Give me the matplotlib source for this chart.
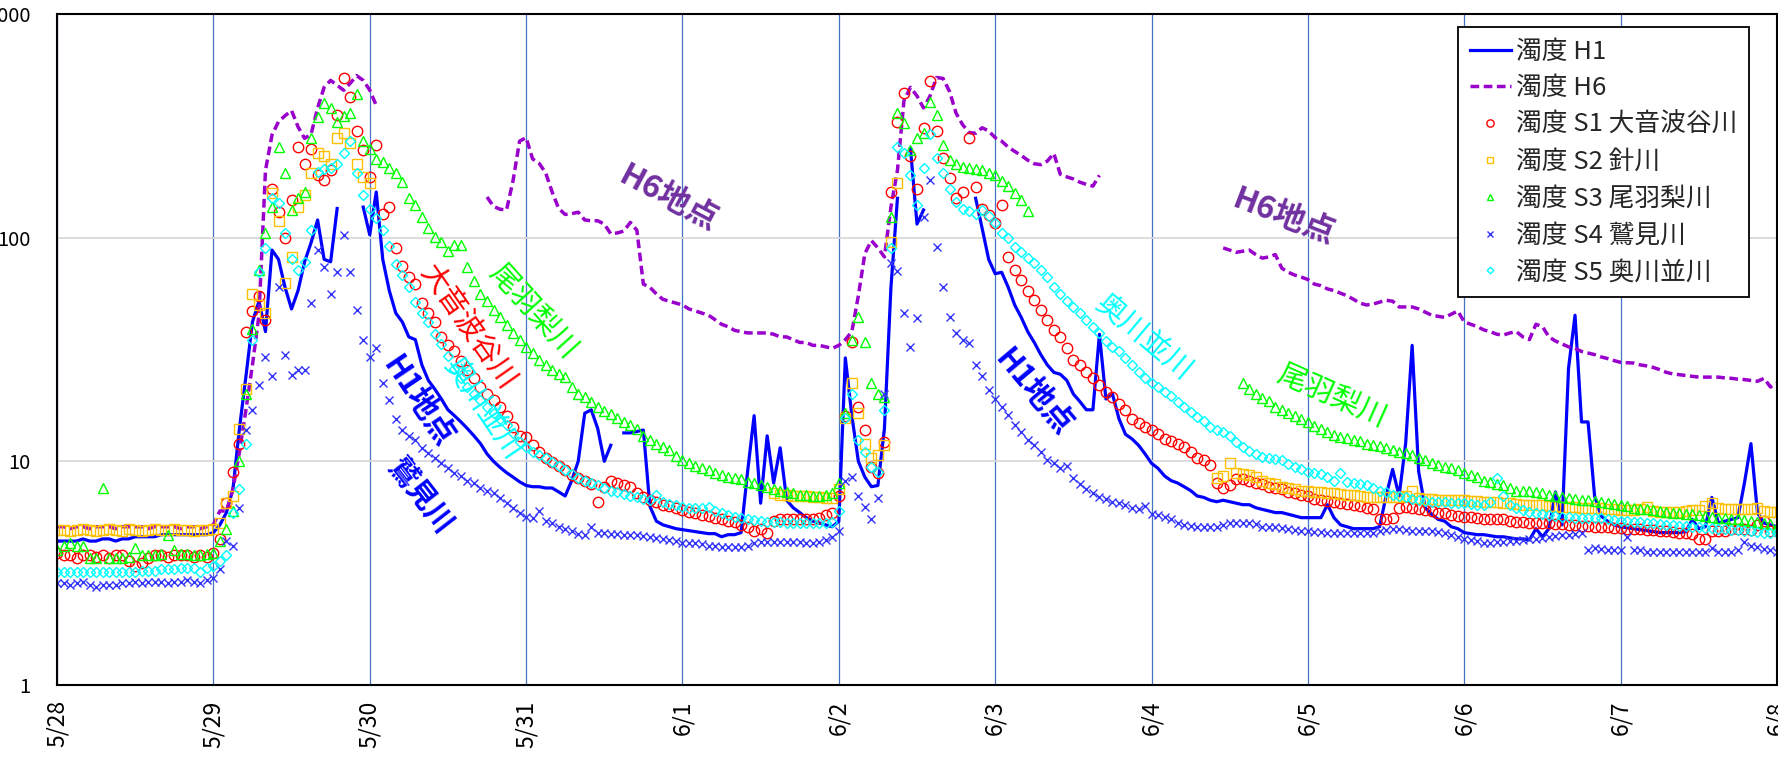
import numpy as np
import pandas as pd
import matplotlib
matplotlib.use('Agg')
import matplotlib.pyplot as plt
import matplotlib.dates as mdates
from matplotlib.ticker import FixedLocator, NullLocator, FuncFormatter

plt.rcParams['font.family'] = ['Noto Sans CJK JP', 'DejaVu Sans']

nan = np.nan

# hourly readings, 5/28 0:00 .. 6/8 0:00 (one row per day)
h1 = ([4.4,4.4,4.4,4.4,4.5,4.4,4.4,4.5,4.5,4.4,4.5,4.5,4.6,4.6,4.6,4.6,4.7,4.7,4.7,4.7,4.7,4.7,4.7,4.7]
      + [4.8,5.2,5.9,7.5,14,24,42,52,38,88,80,60,48,58,78,95,120,80,78,135,nan,nan,nan,137]
      + [103,160,80,58,46,42,36,35,27,23,21,19,17,16,15,14,13,12,10.8,10,9.4,8.9,8.5,8.1]
      + [7.8,7.7,7.7,7.6,7.6,7.3,7.0,8.2,10,16.4,17,14,10,11.8,nan,13.4,13.4,13.6,13.8,6.3,5.4,5.2,5.1,5.0]
      + [4.95,4.9,4.85,4.8,4.75,4.75,4.6,4.7,4.7,4.8,9,16,6.5,13,8,11.5,6.7,6.2,5.9,5.6,5.4,5.3,5.2,5.1]
      + [5.4,29,16,10,8.5,7.7,7.8,14,60,150,nan,250,115,133,nan,nan,nan,nan,nan,nan,nan,150,110,80]
      + [69,70,60,50,44,38,34,30,27,25,24.5,23,20,18.5,17,17,37,19,20,15.5,13.2,12.6,11.8,10.8]
      + [9.8,9.3,8.6,8.2,8.0,7.7,7.4,7.0,6.9,6.7,6.6,6.7,6.6,6.5,6.4,6.4,6.2,6.1,6.0,5.9,5.9,5.8,5.7,5.6]
      + [5.6,5.6,5.6,6.4,5.6,5.2,5.1,5.0,5.0,5.0,5.0,5.1,7,9.2,7,12,33,9,6.2,5.8,5.5,5.4,5.1,5.0]
      + [4.8,4.75,4.7,4.7,4.65,4.6,4.6,4.55,4.5,4.5,4.45,5.0,4.6,5.0,7.3,5.2,26,45,15,15,7,5.7,5.4,5.2]
      + [5.1,5.05,5.0,4.95,4.9,4.85,4.8,4.8,4.8,4.8,4.85,5.5,5.0,5.1,6.9,5.3,5.4,5.5,5.6,8,12,5.9,5.3,5.2]
      + [5.1])

h6 = ([5.1,5.1,5.0,5.1,5.1,5.0,5.1,5.1,5.1,5.0,5.1,5.1,5.1,5.1,5.0,5.1,5.1,5.1,5.1,5.0,5.1,5.1,5.0,5.1]
      + [5.2,6.0,6.0,7.5,11,17,27,45,200,288,330,351,370,313,278,290,380,470,505,480,456,490,530,505]
      + [457,390] + [nan]*16 + [152,138,134,133,180,270]
      + [280,225,215,195,160,135,127,128,130,120,119,119,115,104,105,107,117,108,62,60,56,53,52,51]
      + [50,48,47,46,45,43,41,40,38.5,38,37.5,37.5,37.5,37.5,37,36,36,35,34,34,33,33,32.5,32]
      + [33,35,38,55,85,97,90,82,137,200,410,470,430,380,430,520,515,450,360,320,295,293,310,300]
      + [280,270,254,243,233,222,214,212,220,238,192,187,183,177,173,170,190] + [nan]*7
      + [nan]*11 + [90,88,86,87,88,84,81,82,84,73,70,68,66.6]
      + [65,62,61,59,58,56.5,55,53,51,50,50.5,51.5,52.5,52,49,49,49,48,46.5,45,44.5,44,45.5,47]
      + [42,41,40,38.7,38,37,36.7,37.5,38,36,35,41,40,36,34.5,33.5,32.5,32,31,30.5,30,29.3,28.8,28.2]
      + [27.7,27.6,27.5,27,26.7,26.3,25.7,25,24.6,24.4,24.2,24,23.8,23.8,23.8,23.8,23.6,23.5,23.3,23.2,23,22.8,23.5,21.5]
      + [22.3])

s1 = ([3.9,3.8,3.8,3.7,3.8,3.8,3.75,3.8,3.7,3.8,3.8,3.6,3.4,3.5,3.7,3.8,3.8,3.75,3.8,3.8,3.8,3.75,3.8,3.75]
      + [3.9,4.5,6.5,9.0,12,38,47,55,43,165,130,100,147,254,214,250,190,181,200,352,520,425,300,246]
      + [187,260,128,137,90,75,67,62,51,46,42,36,33,31,28,25.5,23.5,21.5,20,18.8,17.5,16,14.2,13]
      + [12.8,11.8,11,10.4,9.9,9.5,9.1,8.7,8.4,8.2,7.9,6.6,7.7,8.2,8.0,7.8,7.7,7.2,6.9,6.7,6.6,6.4,6.3,6.2]
      + [6.05,5.95,5.85,5.75,5.7,5.6,5.5,5.4,5.35,5.2,5.1,4.9,5.0,4.8,5.4,5.5,5.5,5.5,5.5,5.5,5.55,5.6,5.75,5.9]
      + [7,16,34,17.5,13.8,9.4,8.9,12.2,160,330,445,233,165,310,500,300,228,185,150,160,279,168,135,126]
      + [116,140,82,72,64.5,58,52.5,47.5,43,38.7,36,32,28.5,27,25,23.5,22,20.5,19.4,18,17,15.5,14.8,14.2]
      + [13.8,13.2,12.6,12.3,12,11.6,11,10.4,10.1,9.6,8.0,7.6,7.8,8.3,8.3,8.2,8.0,7.9,7.7,7.6,7.5,7.3,7.2,7.1]
      + [7.0,6.8,6.7,6.65,6.6,6.5,6.45,6.4,6.3,6.2,6.1,5.5,5.5,5.6,6.2,6.25,6.2,6.1,6.05,6.0,5.9,5.85,5.75,5.7]
      + [5.65,5.65,5.6,5.55,5.55,5.5,5.5,5.4,5.35,5.35,5.3,5.3,5.3,5.3,5.25,5.25,5.2,5.2,5.15,5.15,5.1,5.1,5.1,5.05]
      + [5.05,5.0,5.0,5.0,4.95,4.95,4.9,4.9,4.85,4.8,4.8,4.75,4.5,4.5,4.9,4.9,4.9,5.0,5.0,5.0,4.95,5.2,5.4,4.9]
      + [4.9])

s2 = ([4.95,4.95,4.9,4.95,5.0,4.95,4.9,4.95,5.0,4.95,4.9,5.0,4.95,4.9,4.95,5.0,4.95,4.95,5.0,4.95,4.95,4.9,4.95,4.95]
      + [5.0,5.3,6.5,7.0,14,21,56,50,46,158,119,63,82,137,155,194,238,233,214,280,293,265,214,187]
      + [175] + [nan]*23
      + [nan]*24
      + [nan]*14 + [7.2,7.1,7.1,7.0,7.0,7.0,6.9,6.9,6.85,6.85]
      + [7.5,15.6,22.4,16.4,12,10.3,10.7,11.8,96,175] + [nan]*14
      + [nan]*24
      + [nan]*10 + [8.4,8.6,9.8,8.9,8.8,8.7,8.5,8.2,8.0,7.9,7.7,7.6,7.5,7.4]
      + [7.35,7.3,7.3,7.25,7.2,7.15,7.1,7.05,7.0,6.95,6.9,6.9,6.9,6.9,6.9,7.0,7.4,6.85,6.8,6.8,6.75,6.75,6.7,6.7]
      + [6.7,6.65,6.65,6.6,6.6,6.6,6.5,6.5,6.45,6.4,6.4,6.4,6.35,6.3,6.3,6.25,6.25,6.25,6.2,6.2,6.2,6.2,6.15,6.1]
      + [6.05,6.05,6.05,6.1,6.25,6.0,5.95,5.95,5.95,5.95,6.0,6.05,6.05,6.3,6.5,6.2,6.1,6.1,6.1,6.1,6.15,6.2,6.0,5.95]
      + [5.95])

s3 = ([4.0,4.2,4.3,4.2,4.2,3.7,3.7,7.6,3.7,3.7,3.7,3.75,4.1,3.8,3.8,3.8,3.85,4.7,4.0,3.85,3.85,3.8,3.8,3.85]
      + [3.9,4.4,5.0,6.0,10,20,39,72,105,137,254,194,133,150,160,278,347,400,380,330,350,360,440,270]
      + [250,225,218,205,194,177,150,140,124,110,101,96,87,93,93,74,64,56,52,47.5,44,40.6,37.5,34.8]
      + [32.5,30.5,28.5,27,25.5,24.5,23.8,21.5,20,19.4,18.5,17.5,16.8,16.2,15.7,15,14.5,14,13,12.4,12,11.6,11.2,10.6]
      + [10.1,9.8,9.5,9.3,9.1,8.9,8.7,8.5,8.4,8.3,8.1,8.0,7.8,7.7,7.5,7.4,7.3,7.2,7.1,7.05,7.0,7.0,7.1,7.2]
      + [8,16.4,34.8,44,34,22.4,20,19.4,124,360,325,246,280,293,403,352,260,222,214,207,205,203,200,195]
      + [190,180,170,158,147,132] + [nan]*18
      + [nan]*14 + [22.4,21,20,19.2,18.6,17.5,17,16.5,16,15.5]
      + [15,14.4,14,13.5,13.1,12.9,12.7,12.5,12.3,12,11.8,11.7,11.5,11.2,11.0,10.9,10.7,10.4,10.1,9.8,9.6,9.4,9.3,9.1]
      + [8.9,8.7,8.5,8.2,8.1,7.9,7.8,7.6,7.4,7.4,7.35,7.3,7.2,7.1,7.0,6.95,6.85,6.8,6.75,6.7,6.65,6.6,6.5,6.45]
      + [6.4,6.3,6.2,6.15,6.1,6.05,6.0,5.95,5.9,5.85,5.8,5.8,5.75,5.7,5.65,5.6,5.6,5.55,5.5,5.45,5.4,5.35,5.3,5.25]
      + [5.1])

s4 = ([2.85,2.85,2.8,2.85,2.9,2.8,2.75,2.8,2.8,2.8,2.85,2.85,2.9,2.85,2.9,2.9,2.9,2.85,2.9,2.9,2.95,2.9,2.85,2.95]
      + [3.0,3.3,4.4,4.2,6.2,13.8,16.9,22,29.3,24,60,30,24.4,25.6,25.6,51,88,74,56,70,103,70,47.5,34.8]
      + [29.3,32,22.4,18.8,15.5,13.8,13,12.4,11.5,10.9,10.3,9.8,9.3,8.9,8.6,8.2,8.0,7.6,7.4,7.2,6.85,6.5,6.2,5.9]
      + [5.65,5.56,6.0,5.4,5.3,5.1,5.0,4.9,4.75,4.7,5.1,4.8,4.8,4.75,4.75,4.7,4.7,4.7,4.65,4.6,4.55,4.5,4.45,4.4]
      + [4.3,4.3,4.3,4.25,4.2,4.2,4.15,4.15,4.14,4.14,4.2,4.3,4.35,4.36,4.36,4.36,4.36,4.36,4.36,4.3,4.3,4.35,4.45,4.6]
      + [4.9,8.2,8.5,7.0,6.25,5.5,6.85,20,77,71,46,32.5,43.6,124,181,91,60,44,37.5,34.8,33.9,27,24,20.8]
      + [19,17.5,16.1,14.5,13.5,12.4,11.8,11.0,10.1,9.8,9.3,9.5,8.4,7.9,7.5,7.2,6.9,6.8,6.6,6.5,6.35,6.2,6.1,6.3]
      + [5.8,5.75,5.65,5.5,5.3,5.2,5.15,5.1,5.1,5.1,5.1,5.2,5.3,5.3,5.3,5.3,5.25,5.1,5.1,5.1,5.05,5.0,4.95,4.9]
      + [4.9,4.85,4.85,4.8,4.8,4.78,4.78,4.78,4.78,4.78,4.8,4.9,4.95,5.0,5.0,4.95,4.9,4.9,4.9,4.9,4.85,4.8,4.7,4.6]
      + [4.5,4.45,4.4,4.3,4.3,4.35,4.36,4.4,4.4,4.45,4.5,4.5,4.55,4.6,4.65,4.7,4.7,4.75,4.78,4.0,4.1,4.05,4.0,4.0]
      + [4.0,4.6,4.0,4.0,3.95,3.95,3.95,3.95,3.95,3.95,3.95,3.95,3.95,3.95,4.1,3.95,3.95,3.95,4.0,4.36,4.2,4.15,4.05,4.0]
      + [3.95])

s5 = ([3.2,3.2,3.2,3.2,3.2,3.2,3.2,3.2,3.2,3.2,3.2,3.2,3.2,3.25,3.25,3.25,3.3,3.3,3.3,3.35,3.35,3.35,3.2,3.35]
      + [3.4,3.6,3.8,5.9,7.5,12,34.8,70,90,150,143,105,80,72,78,108,197,203,205,214,240,270,194,155]
      + [135,122,108,92,76,68,60,51.5,46,42,37,33.5,29.5,26,23.5,21.5,20,18.8,17.5,16.4,15.5,14.5,13.4,12.2]
      + [11.6,11,10.7,10.3,9.9,9.5,9.1,8.8,8.4,8.2,8.0,7.8,7.6,7.4,7.3,7.15,7.0,6.9,6.8,6.7,7.1,6.55,6.45,6.35]
      + [6.25,6.2,6.2,6.2,6.25,6.0,5.85,5.75,5.65,5.6,5.5,5.45,5.4,5.35,5.35,5.35,5.3,5.3,5.3,5.3,5.3,5.3,5.3,5.35]
      + [6.0,15.7,20,12.4,11,9.4,9.0,16.9,90,254,240,190,140,205,290,228,194,165,145,135,132,128,133,125]
      + [116,105,100,91,86,81,77,72,67,60,56,52,49,46,43,40,37.5,34.5,32.5,31,29,27,25,23.5]
      + [22.4,21.5,20.5,19.5,18.5,17.5,16.7,15.8,15.1,14.3,13.8,13.5,13,12.2,11.6,11.1,10.8,10.5,10.4,10.2,10.1,9.7,9.4,9.2]
      + [9.0,8.9,8.8,8.5,8.2,8.9,8.1,8.0,7.9,7.8,7.6,7.4,7.3,7.1,7.0,6.9,6.8,6.7,6.65,6.6,6.6,6.55,6.5,6.5]
      + [6.5,6.45,6.4,6.4,6.6,8.4,7.0,6.4,6.2,6.05,5.95,5.9,5.8,5.75,5.7,5.65,5.65,5.6,5.6,5.6,5.56,5.56,5.5,5.45]
      + [5.4,5.4,5.35,5.35,5.3,5.3,5.25,5.2,5.2,5.15,5.15,5.1,5.1,5.05,5.05,5.0,5.0,4.95,4.95,4.9,4.9,4.85,4.8,4.8]
      + [4.78])

labels = ['濁度 H1', '濁度 H6', '濁度 S1 大音波谷川', '濁度 S2 針川',
          '濁度 S3 尾羽梨川', '濁度 S4 鷲見川', '濁度 S5 奥川並川']
y_ticks = [1, 10, 100, 1000]
y_ticklabels = ['1', '10', '100', '1000']

t0 = pd.Timestamp('2023-05-28 00:00')
t = pd.date_range(t0, periods=265, freq='h')
for name, s in zip(labels, [h1, h6, s1, s2, s3, s4, s5]):
    assert len(s) == 265, (name, len(s))

def at(hours):
    return t0 + pd.Timedelta(hours=hours)

fig = plt.figure(figsize=(17.78, 7.59), dpi=100)
ax = fig.add_axes([57/1778, 1 - 685/759, 1720/1778, 671/759])

ax.plot(t, h1, color='#0000FF', lw=2.3, label=labels[0])
ax.plot(t, h6, color='#9900CC', lw=2.5, dashes=(2.5, 1.3), label=labels[1])
ax.plot(t, s1, ls='none', marker='o', ms=7.5, mfc='none', mec='#FF0000', mew=1.0, label=labels[2])
ax.plot(t, s2, ls='none', marker='s', ms=6.5, mfc='none', mec='#FFC000', mew=1.0, label=labels[3])
ax.plot(t, s3, ls='none', marker='^', ms=7.0, mfc='none', mec='#00FF00', mew=1.0, label=labels[4])
ax.plot(t, s4, ls='none', marker='x', ms=6.0, color='#3333FF', mew=1.0, label=labels[5])
ax.plot(t, s5, ls='none', marker='D', ms=4.8, mfc='none', mec='#00FFFF', mew=1.0, label=labels[6])

ax.set_yscale('log')
ax.set_ylim(1, 1000)
ax.set_xlim(t0, at(264))
ax.yaxis.set_major_locator(FixedLocator(y_ticks))
ax.yaxis.set_minor_locator(NullLocator())
ax.set_yticklabels(y_ticklabels)
ax.xaxis.set_major_locator(mdates.DayLocator())
ax.xaxis.set_major_formatter(FuncFormatter(
    lambda v, pos: f"{mdates.num2date(v).month}/{mdates.num2date(v).day}"))

ax.grid(axis='x', color='#4472C4', lw=0.9)
ax.grid(axis='y', color='#D9D9D9', lw=1.3)
ax.set_axisbelow(True)
ax.tick_params(axis='both', length=0, colors='black')
ax.tick_params(axis='x', labelsize=16.5, pad=11, labelrotation=90)
ax.tick_params(axis='y', labelsize=14.5, pad=19)
for sp in ax.spines.values():
    sp.set_color('black')
    sp.set_linewidth(1.5)

# labels written on the chart
txt = dict(ha='center', va='center', rotation_mode='anchor')
ax.text(at(93.8), 150, 'H6地点', color='#7030A0', fontsize=23, fontweight='bold', rotation=-28, **txt)
ax.text(at(188.2), 124, 'H6地点', color='#7030A0', fontsize=23, fontweight='bold', rotation=-21, **txt)
ax.text(at(73.1), 47, '尾羽梨川', color='#00FF00', fontsize=21, rotation=-48, **txt)
ax.text(at(195.7), 19.6, '尾羽梨川', color='#00FF00', fontsize=21, rotation=-24, **txt)
ax.text(at(62.9), 39.4, '大音波谷川', color='#FF0000', fontsize=21, rotation=-55, **txt)
ax.text(at(65.2), 17, '奥川並川', color='#00FFFF', fontsize=21, rotation=-56, **txt)
ax.text(at(166.7), 35.6, '奥川並川', color='#00FFFF', fontsize=21, rotation=-40, **txt)
ax.text(at(55.4), 18.4, 'H1地点', color='#0000FF', fontsize=22, fontweight='bold', rotation=-56, **txt)
ax.text(at(149.8), 20.4, 'H1地点', color='#0000FF', fontsize=22, fontweight='bold', rotation=-50, **txt)
ax.text(at(55.7), 7.0, '鷲見川', color='#0000FF', fontsize=21, fontweight='bold', rotation=-52, **txt)

leg = ax.legend(loc='upper right', bbox_to_anchor=(0.9837, 0.9806), borderaxespad=0,
                fancybox=False, edgecolor='black', framealpha=1, fontsize=18.5,
                handlelength=1.6, handletextpad=0.2, labelspacing=0.42, borderpad=0.45,
                markerscale=0.7)
leg.get_frame().set_linewidth(1.3)
for tx in leg.get_texts():
    tx.set_color('#262626')

fig.savefig('out.png', dpi=100)
